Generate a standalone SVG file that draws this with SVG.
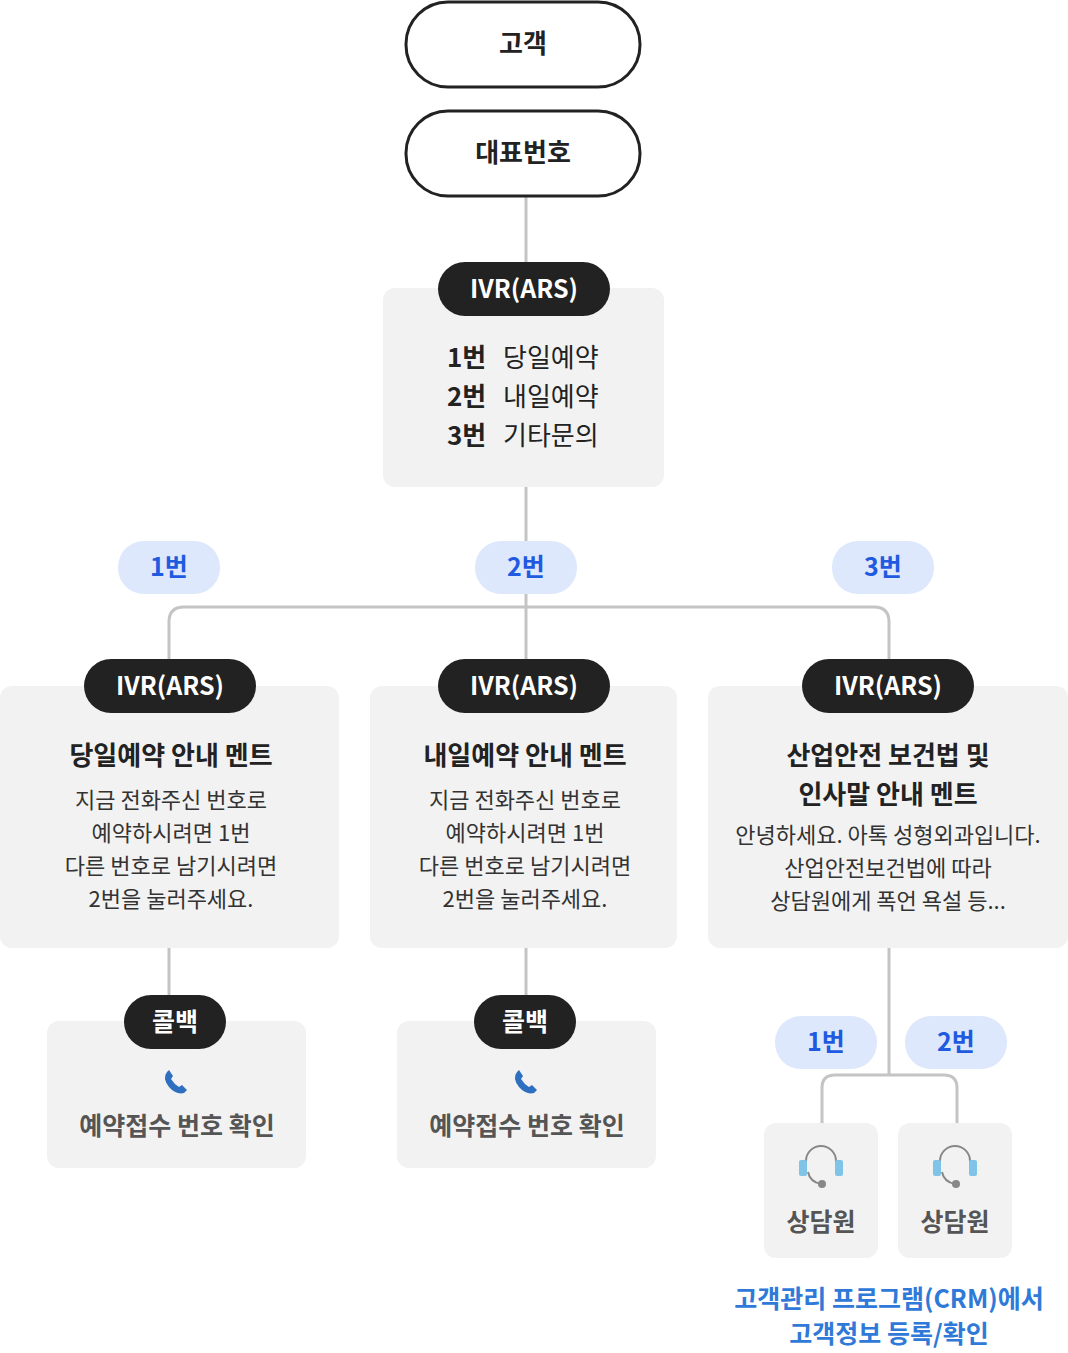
<svg xmlns="http://www.w3.org/2000/svg" width="1068" height="1353" viewBox="0 0 1068 1353">
<defs>
<style>
text{font-family:"Noto Sans CJK KR","Noto Sans",sans-serif;text-anchor:middle}
.top{fill:#fff;stroke:#222;stroke-width:3}
.tt{font-size:26px;font-weight:700;fill:#222}
.box{fill:#f2f2f2}
.badge{fill:#222}
.bt{font-size:25px;font-weight:700;fill:#fff}
.pill{fill:#dde8fc}
.pt{font-size:25px;font-weight:700;fill:#1f5ae0}
.title{font-size:26px;font-weight:700;fill:#222}
.body{font-size:22px;fill:#333}
.gt{font-size:25px;font-weight:700;fill:#555}
.con{fill:none;stroke:#c4c4c4;stroke-width:3}
.blue{font-size:25px;font-weight:700;fill:#2f7ad8}
</style>
<g id="phone"><path d="M-10,-10 q-5,6 2,15 q7,8 15,6 l3,-3 l-5,-5 l-3,2 q-5,-3 -8,-8 l2,-3 l-4,-6 z" fill="#2f6fc0"/></g>
<g id="headset"><path d="M-15,4 v-6 a15,15 0 0 1 30,0 v6" fill="none" stroke="#888" stroke-width="2"/><path d="M-13,9 q2,10 13,12" fill="none" stroke="#888" stroke-width="2"/><circle cx="1" cy="21" r="4" fill="#888"/><rect x="-22" y="-3" width="8" height="16" rx="2" fill="#7fc4e8"/><rect x="14" y="-3" width="8" height="16" rx="2" fill="#7fc4e8"/></g>
</defs>
<g id="connectors">
<path class="con" d="M526,196 V290"/>
<path class="con" d="M526,487 V688"/>
<path class="con" d="M169,688 V622 q0,-15 15,-15 H874 q15,0 15,15 V688"/>
<path class="con" d="M169,948 V1022"/>
<path class="con" d="M526,948 V1022"/>
<path class="con" d="M889,948 V1075"/>
<path class="con" d="M822,1123 V1088 q0,-13 13,-13 H944 q13,0 13,13 V1123"/>
</g>
<g id="n-customer"><rect class="top" x="406" y="2" width="234" height="85" rx="42"/><text class="tt" x="523" y="53">고객</text></g>
<g id="n-rep"><rect class="top" x="406" y="111" width="234" height="85" rx="42"/><text class="tt" x="523" y="162">대표번호</text></g>
<g id="n-ivr"><rect class="box" x="383" y="288" width="281" height="199" rx="12"/>
<rect class="badge" x="438" y="262" width="172" height="54" rx="27"/><text class="bt" x="524" y="298">IVR(ARS)</text>
<g style="font-size:26px;fill:#222">
<text x="447" y="367" style="text-anchor:start;font-weight:700">1번</text><text x="503" y="367" style="text-anchor:start">당일예약</text>
<text x="447" y="406" style="text-anchor:start;font-weight:700">2번</text><text x="503" y="406" style="text-anchor:start">내일예약</text>
<text x="447" y="445" style="text-anchor:start;font-weight:700">3번</text><text x="503" y="445" style="text-anchor:start">기타문의</text>
</g></g>
<g id="p1"><rect class="pill" x="118" y="541" width="102" height="53" rx="26"/><text class="pt" x="169" y="576">1번</text></g>
<g id="p2"><rect class="pill" x="475" y="541" width="102" height="53" rx="26"/><text class="pt" x="526" y="576">2번</text></g>
<g id="p3"><rect class="pill" x="832" y="541" width="102" height="53" rx="26"/><text class="pt" x="883" y="576">3번</text></g>
<g id="n-today"><rect class="box" x="0" y="686" width="339" height="262" rx="12"/>
<rect class="badge" x="84" y="659" width="172" height="54" rx="27"/><text class="bt" x="170" y="695">IVR(ARS)</text>
<text class="title" x="171" y="765">당일예약 안내 멘트</text>
<text class="body" x="171" y="808">지금 전화주신 번호로</text><text class="body" x="171" y="841">예약하시려면 1번</text><text class="body" x="171" y="874">다른 번호로 남기시려면</text><text class="body" x="171" y="907">2번을 눌러주세요.</text></g>
<g id="n-tomorrow"><rect class="box" x="370" y="686" width="307" height="262" rx="12"/>
<rect class="badge" x="438" y="659" width="172" height="54" rx="27"/><text class="bt" x="524" y="695">IVR(ARS)</text>
<text class="title" x="525" y="765">내일예약 안내 멘트</text>
<text class="body" x="525" y="808">지금 전화주신 번호로</text><text class="body" x="525" y="841">예약하시려면 1번</text><text class="body" x="525" y="874">다른 번호로 남기시려면</text><text class="body" x="525" y="907">2번을 눌러주세요.</text></g>
<g id="n-other"><rect class="box" x="708" y="686" width="360" height="262" rx="12"/>
<rect class="badge" x="802" y="659" width="172" height="54" rx="27"/><text class="bt" x="888" y="695">IVR(ARS)</text>
<text class="title" x="888" y="765">산업안전 보건법 및</text><text class="title" x="888" y="804">인사말 안내 멘트</text>
<text class="body" x="888" y="843">안녕하세요. 아톡 성형외과입니다.</text><text class="body" x="888" y="876">산업안전보건법에 따라</text><text class="body" x="888" y="909">상담원에게 폭언 욕설 등...</text></g>
<g id="n-cb1"><rect class="box" x="47" y="1021" width="259" height="147" rx="12"/>
<rect class="badge" x="124" y="995" width="102" height="54" rx="27"/><text class="bt" x="175" y="1031">콜백</text>
<use href="#phone" x="177" y="1082"/><text class="gt" x="177" y="1135">예약접수 번호 확인</text></g>
<g id="n-cb2"><rect class="box" x="397" y="1021" width="259" height="147" rx="12"/>
<rect class="badge" x="474" y="995" width="102" height="54" rx="27"/><text class="bt" x="525" y="1031">콜백</text>
<use href="#phone" x="527" y="1082"/><text class="gt" x="527" y="1135">예약접수 번호 확인</text></g>
<g id="p4"><rect class="pill" x="775" y="1016" width="102" height="53" rx="26"/><text class="pt" x="826" y="1051">1번</text></g>
<g id="p5"><rect class="pill" x="905" y="1016" width="102" height="53" rx="26"/><text class="pt" x="956" y="1051">2번</text></g>
<g id="n-ag1"><rect class="box" x="764" y="1123" width="114" height="135" rx="12"/><use href="#headset" x="821" y="1163"/><text class="gt" x="821" y="1231">상담원</text></g>
<g id="n-ag2"><rect class="box" x="898" y="1123" width="114" height="135" rx="12"/><use href="#headset" x="955" y="1163"/><text class="gt" x="955" y="1231">상담원</text></g>
<g id="crm"><text class="blue" x="889" y="1308">고객관리 프로그램(CRM)에서</text><text class="blue" x="889" y="1343">고객정보 등록/확인</text></g>
</svg>
